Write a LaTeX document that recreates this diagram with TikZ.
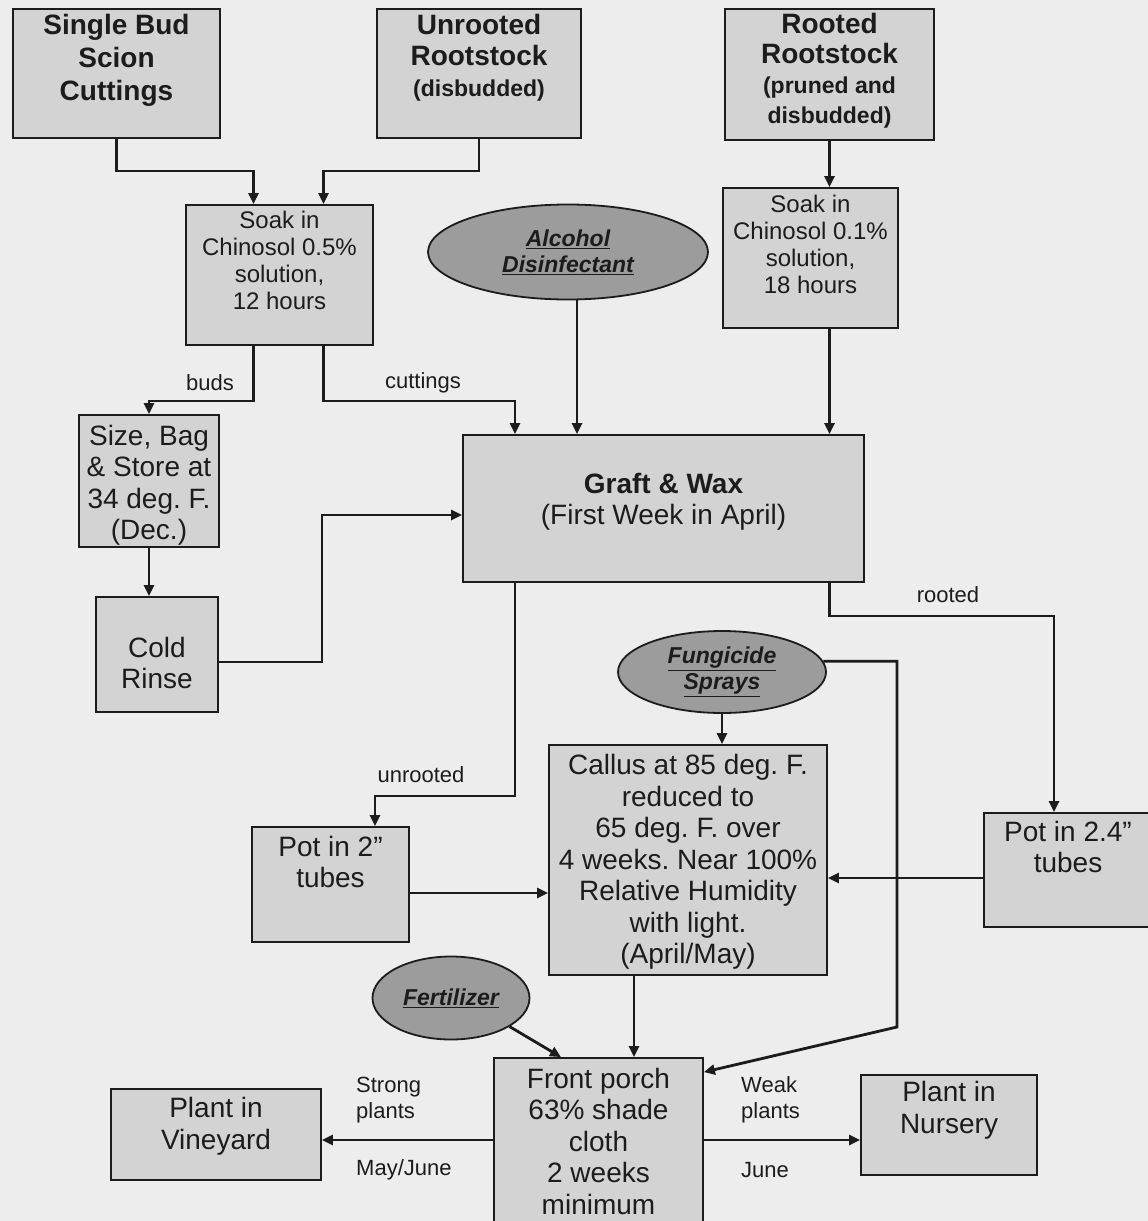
\documentclass[tikz,border=0pt]{standalone}
\usepackage{fontspec}
\setmainfont{Liberation Sans}
\usetikzlibrary{arrows.meta,shapes.geometric}

\definecolor{paper}{HTML}{EDEDED}
\definecolor{boxgray}{HTML}{D3D3D3}
\definecolor{ovalgray}{HTML}{9C9C9C}
\definecolor{ink}{HTML}{1C1C1C}

\frenchspacing
\newcommand\subfont{\fontsize{23}{25}\selectfont}
\newcommand\flowbox[8][]{
  \node[box,minimum width=#5,minimum height=#6] (#2) at (#3,#4) {};
  \node[boxtext,#1] (#2txt) at (#3,#7) {#8};
}

\begin{document}
\begin{tikzpicture}[x=1pt,y=-1pt,
    box/.style={draw=ink,line width=1.8pt,fill=boxgray,inner sep=0pt},
    boxtext/.style={text=ink,align=center,inner sep=0pt,
      font=\fontsize{28}{31.5}\selectfont},
    oval/.style={ellipse,draw=ink,line width=1.8pt,fill=ovalgray,inner sep=0pt,
      text=ink,align=center,font=\fontsize{23}{26}\selectfont\bfseries\itshape},
    arr/.style={draw=ink,line width=2.8pt,-{Triangle[length=11pt,width=10pt]}},
    note/.style={text=ink,inner sep=0pt,font=\fontsize{22}{26}\selectfont}]

  \useasboundingbox (0,0) rectangle (1148,1221);
  \fill[paper] (0,0) rectangle (1148,1221);

  % sources
  \flowbox[font=\fontsize{28}{33}\selectfont\bfseries]{scion}{116.5}{73.5}{207}{129}{60}
    {Single Bud\\Scion\\Cuttings}
  \flowbox[font=\fontsize{28}{31}\selectfont\bfseries]{unroot}{479}{73.5}{204}{129}{58}
    {Unrooted\\Rootstock\\\subfont(disbudded)}
  \flowbox[font=\fontsize{28}{30}\selectfont\bfseries]{rooted}{829.5}{74.5}{209}{131}{71}
    {Rooted\\Rootstock\\\subfont(pruned and\\\subfont disbudded)}

  % soaking
  \flowbox[font=\fontsize{24}{27}\selectfont]{soakA}{279.5}{275}{187}{140}{260}
    {Soak in\\Chinosol 0.5\%\\solution,\\12 hours}
  \flowbox[font=\fontsize{24}{27}\selectfont]{soakB}{810.5}{258}{175}{140}{244}
    {Soak in\\Chinosol 0.1\%\\solution,\\18 hours}
  \node[oval,minimum width=280,minimum height=95] (alc) at (568,252)
    {\underline{Alcohol}\\\underline{Disinfectant}};

  \flowbox{graft}{663.5}{508.5}{401}{147}{502}
    {\bfseries Graft \& Wax\\\mdseries(First Week in April)}
  \flowbox{size}{149}{481}{140}{132}{485}
    {Size, Bag\\\& Store at\\34 deg. F.\\(Dec.)}
  \flowbox{rinse}{157}{654.5}{122}{115}{663}{Cold\\Rinse}

  % callusing
  \node[oval,minimum width=208,minimum height=82] (fung) at (722,672)
    {\underline{Fungicide}\\\underline{Sprays}};
  \flowbox{callus}{688}{860}{278}{230}{862}
    {Callus at 85 deg. F.\\reduced to\\65 deg. F. over\\4 weeks. Near 100\%\\Relative Humidity\\with light.\\(April/May)}
  \flowbox{potA}{330.5}{884.5}{157}{115}{862}{Pot in 2''\\tubes}
  \flowbox{potB}{1068}{870}{168}{114}{847}{Pot in 2.4''\\tubes}

  % hardening off
  \node[oval,minimum width=157,minimum height=83] (fert) at (451,998)
    {\underline{Fertilizer}};
  \flowbox{porch}{598.5}{1140}{209}{164}{1141}
    {Front porch\\63\% shade\\cloth\\2 weeks\\minimum}
  \flowbox{vine}{216}{1134.5}{210}{91}{1126}{Plant in\\Vineyard}
  \flowbox{nurs}{949}{1125}{176}{100}{1110}{Plant in\\Nursery}

  \node[note] (buds) at (210,383) {buds};
  \node[note] (cuts) at (423,383) {cuttings};
  \node[note] (unr) at (421,775) {unrooted};
  \node[note] (rtd) at (948,595) {rooted};
  \node[note,anchor=west,align=left] (strong) at (356,1100) {Strong\\plants};
  \node[note,anchor=west] (mayjune) at (356,1170) {May/June};
  \node[note,anchor=west,align=left] (weak) at (741,1100) {Weak\\plants};
  \node[note,anchor=west] (june) at (741,1170) {June};

  \draw[arr] (scion.south) -- ++(0,32) -| ([xshift=-26pt]soakA.north);
  \draw[arr] (unroot.south) -- ++(0,32) -| ([xshift=44pt]soakA.north);
  \draw[arr] (rooted.south) -- (rooted.south |- soakB.north);

  \draw[arr] ([xshift=-26pt]soakA.south) -- ++(0,55) -| (size.north);
  \draw[arr] ([xshift=44pt]soakA.south) -- ++(0,55) -| ([xshift=-148.5pt]graft.north);
  \draw[arr] ([xshift=9pt]alc.south) -- ([xshift=9pt]alc.south |- graft.north);
  \draw[arr] (rooted.south |- soakB.south) -- (rooted.south |- graft.north);
  \draw[arr] (size.south) -- (size.south |- rinse.north);
  \draw[arr] ([yshift=-7.5pt]rinse.east) -- ++(103,0) |- ([yshift=-6.5pt]graft.west);

  \draw[arr] ([xshift=-148.5pt]graft.south) -- ++(0,213) -| ([xshift=44.5pt]potA.north);
  \draw[arr] (rooted.south |- graft.south) -- ++(0,33) -| ([xshift=-14pt]potB.north);
  \draw[arr] (fung.south) -- (fung.south |- callus.north);
  \draw[arr] ([yshift=-8.5pt]potA.east) -- ([yshift=-8.5pt]potA.east -| callus.west);
  \draw[arr] ([yshift=-8pt]potB.west) -- ([yshift=-8pt]potB.west -| callus.east);

  \coordinate (drop) at (897,1027);
  \draw[arr] (fung.6) -| (drop) -- ([yshift=-15pt]porch.north east);
  \draw[arr] ([xshift=-54pt]callus.south) -- ([xshift=-54pt]callus.south |- porch.north);
  \draw[arr] (fert.-26) -- ([xshift=-37.5pt]porch.north);
  \draw[arr] (porch.west) -- (porch.west -| vine.east);
  \draw[arr] (porch.east) -- (porch.east -| nurs.west);

\end{tikzpicture}
\end{document}
